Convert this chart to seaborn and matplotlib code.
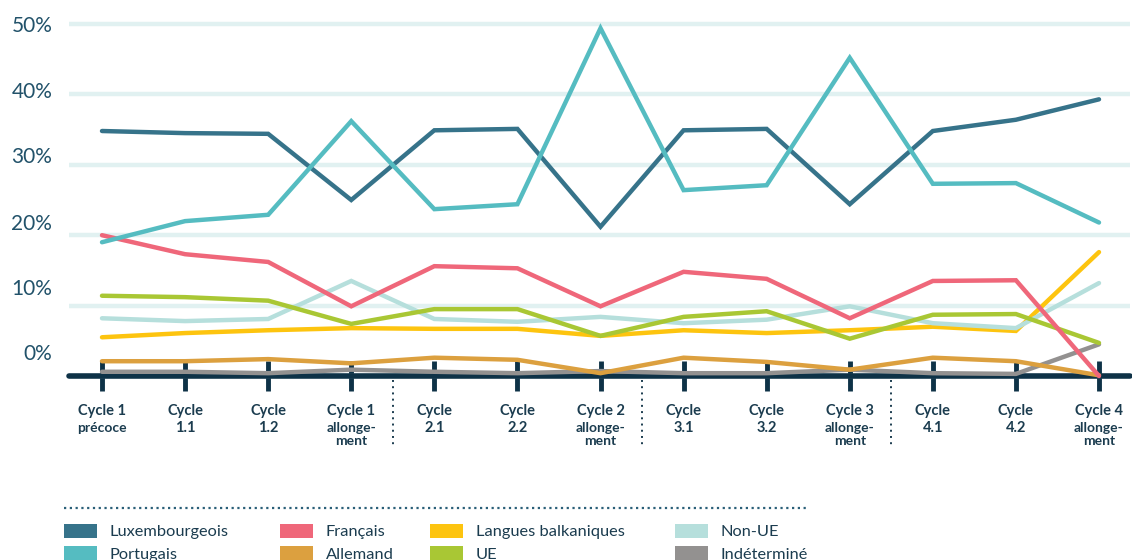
import numpy as np
import pandas as pd
import matplotlib
matplotlib.use("Agg")
import matplotlib.pyplot as plt
import matplotlib.transforms as mtransforms
from matplotlib.patches import Patch
from matplotlib.lines import Line2D
import seaborn as sns

# ---------------- data ----------------
categories = ["Cycle 1\nprécoce", "Cycle\n1.1", "Cycle\n1.2", "Cycle 1\nallonge-\nment",
              "Cycle\n2.1", "Cycle\n2.2", "Cycle 2\nallonge-\nment",
              "Cycle\n3.1", "Cycle\n3.2", "Cycle 3\nallonge-\nment",
              "Cycle\n4.1", "Cycle\n4.2", "Cycle 4\nallonge-\nment"]

luxembourgeois = [34.8, 34.5, 34.4, 25.0, 34.9, 35.1, 21.2, 34.9, 35.1, 24.4, 34.8, 36.4, 39.3]
portugais      = [19.0, 22.0, 22.9, 36.2, 23.7, 24.4, 49.4, 26.4, 27.1, 45.2, 27.3, 27.4, 21.8]
francais       = [20.0, 17.3, 16.2, 9.9, 15.6, 15.3, 9.9, 14.8, 13.8, 8.2, 13.5, 13.6, 0.0]
allemand       = [2.1, 2.1, 2.4, 1.8, 2.6, 2.3, 0.4, 2.6, 2.0, 0.9, 2.6, 2.1, 0.1]
balkaniques    = [5.5, 6.1, 6.5, 6.8, 6.7, 6.7, 5.7, 6.5, 6.1, 6.5, 7.0, 6.4, 17.6]
ue             = [11.4, 11.2, 10.7, 7.4, 9.5, 9.5, 5.7, 8.4, 9.2, 5.3, 8.7, 8.8, 4.7]
non_ue         = [8.2, 7.8, 8.1, 13.5, 8.1, 7.7, 8.4, 7.5, 8.0, 9.9, 7.5, 6.8, 13.2]
indetermine    = [0.6, 0.6, 0.4, 0.9, 0.6, 0.4, 0.7, 0.4, 0.4, 0.9, 0.4, 0.3, 4.5]

series_names = ["Luxembourgeois", "Portugais", "Français", "Allemand",
                "Langues balkaniques", "UE", "Non-UE", "Indéterminé"]
series_values = [luxembourgeois, portugais, francais, allemand,
                 balkaniques, ue, non_ue, indetermine]
colors = ["#36738a", "#55bcc1", "#ef677a", "#dca03f",
          "#fdc40f", "#a9c734", "#b6dfdc", "#939190"]

y_ticks = [0, 10, 20, 30, 40, 50]
y_labels = ["0%", "10%", "20%", "30%", "40%", "50%"]
separators = [3.5, 6.5, 9.5]

# legend columns
legend_columns = [["Luxembourgeois", "Portugais"], ["Français", "Allemand"],
                  ["Langues balkaniques", "UE"], ["Non-UE", "Indéterminé"]]

# ---------------- build ----------------
rows = []
for name, vals in zip(series_names, series_values):
    for i, v in enumerate(vals):
        rows.append({"x": i, "value": v, "serie": name})
df = pd.DataFrame(rows)
palette = dict(zip(series_names, colors))

sns.set_theme(style="white")
plt.rcParams["font.family"] = ["Lato", "DejaVu Sans"]

W, H = 1132, 560
fig = plt.figure(figsize=(W / 100, H / 100), dpi=100)

x0_px, xn_px = 102, 1099
step = (xn_px - x0_px) / (len(categories) - 1)
ax_left_px, ax_right_px = 69, 1130
xmin = (ax_left_px - x0_px) / step
xmax = (len(categories) - 1) + (ax_right_px - xn_px) / step

base_px, per10 = 376, 70.4
ymin, ymax = -1.5, 52
ax_bottom_px = base_px - ymin * per10 / 10
ax_top_px = base_px - ymax * per10 / 10
ax = fig.add_axes([ax_left_px / W, 1 - ax_bottom_px / H,
                   (ax_right_px - ax_left_px) / W, (ax_bottom_px - ax_top_px) / H])

draw_order = ["Indéterminé", "Allemand", "Langues balkaniques", "Non-UE", "UE",
              "Français", "Luxembourgeois", "Portugais"]
for name in draw_order:
    sub = df[df["serie"] == name]
    sns.lineplot(data=sub, x="x", y="value", color=palette[name], lw=3.2,
                 sort=False, legend=False, ax=ax, zorder=3,
                 solid_capstyle="round", solid_joinstyle="miter")

ax.set_xlim(xmin, xmax)
ax.set_ylim(ymin, ymax)
ax.set_xlabel("")
ax.set_ylabel("")

# grid
ax.set_yticks(y_ticks)
ax.set_yticklabels(y_labels)
ax.yaxis.grid(True, color="#e1f1f1", lw=3.2, solid_capstyle="round", zorder=0)
ax.xaxis.grid(False)
ax.set_axisbelow(True)

# spines
for s in ["top", "right", "left"]:
    ax.spines[s].set_visible(False)
ax.spines["bottom"].set_position(("data", 0))
ax.spines["bottom"].set_color("#0e3247")
ax.spines["bottom"].set_linewidth(4)
ax.spines["bottom"].set_capstyle("round")
ax.spines["bottom"].set_zorder(2)

# y tick labels
ax.tick_params(axis="y", left=False, length=0, pad=12, labelsize=15, labelcolor="#22526a")
shifts_px = [24, 19, 13.5, 9.8, 4.4, 0]
for lab, sh in zip(ax.get_yticklabels(), shifts_px):
    lab.set_transform(lab.get_transform() +
                      mtransforms.ScaledTranslation(0, sh / 100, fig.dpi_scale_trans))

# x ticks
first_lines = [c.split("\n")[0] for c in categories]
ax.set_xticks(range(len(categories)))
ax.set_xticklabels(first_lines, fontweight="bold", fontsize=10.5, color="#1b3c4f")
ax.tick_params(axis="x", bottom=True, direction="inout", length=21, width=3.5,
               color="#0e3247", pad=10)
for t in ax.xaxis.get_major_ticks():
    t.tick1line.set_solid_capstyle("round")
    t.tick1line.set_zorder(4)

# secondary lines of x labels
trans = mtransforms.blended_transform_factory(ax.transData, ax.transAxes)
def px_to_axes(p):
    return (ax_bottom_px - p) / (ax_bottom_px - ax_top_px)
for i, c in enumerate(categories):
    parts = c.split("\n")[1:]
    for j, part in enumerate(parts):
        numeric = part.replace(".", "").isdigit()
        ypx = 428 + j * 13
        ax.text(i, px_to_axes(ypx), part, transform=trans, ha="center", va="center",
                fontsize=10.5 if numeric else 10, fontweight="bold", color="#1b3c4f",
                clip_on=False)

# dotted separators
for s in separators:
    ax.plot([s, s], [px_to_axes(380), px_to_axes(448)], transform=trans,
            color="#1b3c4f", lw=1.4, ls=(0, (1, 2.2)), clip_on=False)

# dotted line above legend
fig.add_artist(Line2D([64 / W, 808 / W], [1 - 508 / H] * 2, transform=fig.transFigure,
                      color="#2a5f78", lw=1.6, ls=(0, (1, 1.6))))

# legend: one legend per column at fixed positions
col_x_px = [64, 280, 430, 675]
for cx, names in zip(col_x_px, legend_columns):
    handles = [Patch(facecolor=palette[n], edgecolor="none", label=n) for n in names]
    fig.legend(handles=handles, loc="upper left", bbox_to_anchor=(cx / W, 1 - 524 / H),
               ncol=1, frameon=False, fontsize=11.8, handlelength=2.0,
               handleheight=0.9, handletextpad=0.8, labelspacing=0.42,
               labelcolor="#1b3c4f", borderpad=0, borderaxespad=0)

fig.savefig("out.png", dpi=100)
